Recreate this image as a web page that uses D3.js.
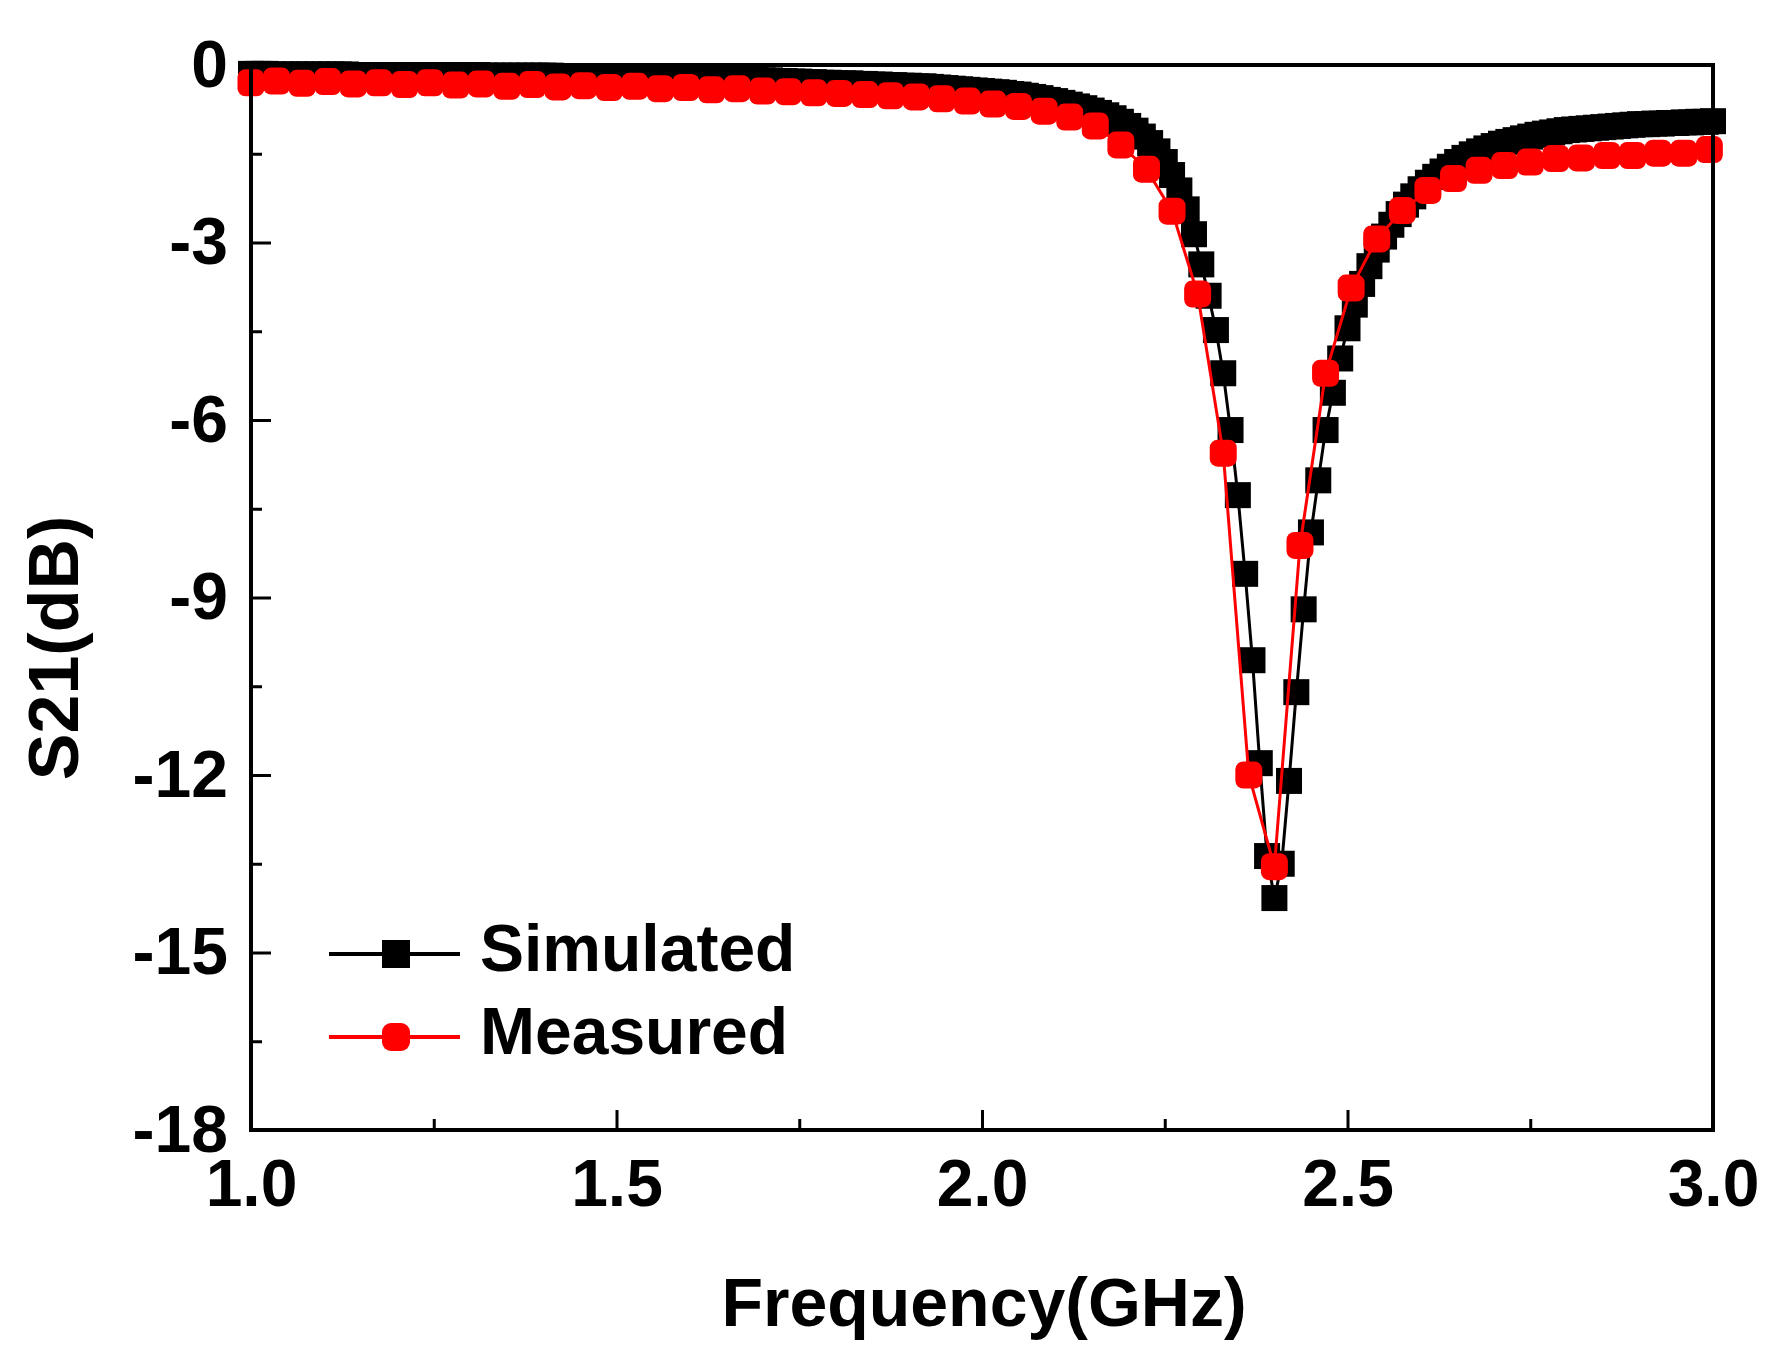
<!DOCTYPE html>
<html lang="en">
<head>
<meta charset="utf-8">
<title>S21 Simulated vs Measured</title>
<script type="text/javascript" src="https://cdn.jsdelivr.net/npm/d3@7/dist/d3.min.js"></script>
<style>
  body { margin: 0; background: #fff; }
  text { font-family: "Liberation Sans", Arial, sans-serif; font-weight: bold; fill: #000; }
</style>
</head>
<body>
<div id="chart"></div>
<script type="text/javascript">
// simulated S21, 1.00 .. 3.00 GHz every 0.01 GHz
const simStart = 1.0;
const simStep = 0.01;
const simulated = [
  -0.15,-0.15,-0.15,-0.16,-0.16,-0.16,-0.16,-0.16,-0.16,-0.16,
  -0.16,-0.16,-0.16,-0.16,-0.17,-0.17,-0.17,-0.17,-0.17,-0.17,
  -0.17,-0.17,-0.17,-0.17,-0.17,-0.17,-0.17,-0.17,-0.17,-0.17,
  -0.17,-0.17,-0.18,-0.18,-0.18,-0.18,-0.18,-0.18,-0.18,-0.18,
  -0.18,-0.18,-0.19,-0.19,-0.19,-0.19,-0.19,-0.19,-0.19,-0.19,
  -0.19,-0.20,-0.20,-0.20,-0.20,-0.20,-0.20,-0.21,-0.21,-0.21,
  -0.21,-0.22,-0.22,-0.22,-0.23,-0.23,-0.24,-0.24,-0.25,-0.25,
  -0.26,-0.26,-0.27,-0.27,-0.28,-0.28,-0.29,-0.29,-0.30,-0.30,
  -0.31,-0.31,-0.31,-0.32,-0.32,-0.33,-0.33,-0.34,-0.34,-0.35,
  -0.35,-0.36,-0.36,-0.37,-0.38,-0.39,-0.40,-0.41,-0.42,-0.43,
  -0.44,-0.45,-0.46,-0.47,-0.49,-0.50,-0.52,-0.54,-0.56,-0.59,
  -0.61,-0.64,-0.67,-0.70,-0.73,-0.77,-0.81,-0.85,-0.90,-0.96,
  -1.03,-1.11,-1.21,-1.32,-1.46,-1.64,-1.86,-2.12,-2.44,-2.86,
  -3.37,-3.90,-4.48,-5.21,-6.17,-7.27,-8.60,-10.06,-11.80,-13.37,
  -14.08,-13.50,-12.10,-10.60,-9.20,-7.90,-7.02,-6.17,-5.54,-4.96,
  -4.45,-4.05,-3.70,-3.40,-3.12,-2.90,-2.70,-2.52,-2.36,-2.22,
  -2.10,-1.99,-1.89,-1.80,-1.72,-1.64,-1.57,-1.51,-1.46,-1.41,
  -1.37,-1.33,-1.30,-1.27,-1.24,-1.21,-1.18,-1.16,-1.14,-1.12,
  -1.10,-1.09,-1.08,-1.07,-1.06,-1.05,-1.04,-1.03,-1.02,-1.01,
  -1.00,-1.00,-0.99,-0.99,-0.98,-0.98,-0.97,-0.97,-0.96,-0.96,
  -0.95
];

// measured S21, VNA sweep every 0.035 GHz from 1.0 GHz
const measStart = 1.0;
const measStep = 0.035;
const measured = [
  -0.30,-0.27,-0.31,-0.28,-0.32,-0.30,-0.33,-0.30,-0.34,-0.32,
  -0.36,-0.33,-0.37,-0.35,-0.38,-0.36,-0.40,-0.38,-0.42,-0.40,
  -0.44,-0.45,-0.47,-0.48,-0.50,-0.52,-0.54,-0.57,-0.61,-0.66,
  -0.70,-0.78,-0.88,-1.03,-1.35,-1.76,-2.47,-3.87,-6.56,-12.00,
  -13.55,-8.12,-5.21,-3.77,-2.94,-2.46,-2.12,-1.92,-1.78,-1.70,
  -1.64,-1.58,-1.57,-1.53,-1.53,-1.49,-1.49,-1.43
];

const xTicks = [1.0, 1.5, 2.0, 2.5, 3.0];
const xMinorTicks = [1.25, 1.75, 2.25, 2.75];
const yTicks = [0, -3, -6, -9, -12, -15, -18];
const yMinorTicks = [-1.5, -4.5, -7.5, -10.5, -13.5, -16.5];
const seriesNames = ["Simulated", "Measured"];

const w = 1784;
const h = 1364;
const plotLeft = 251, plotRight = 1713, plotTop = 65, plotBottom = 1130;

let simData = simulated.map((v, i) => ({ f: simStart + i * simStep, v: v }));
let measData = measured.map((v, i) => ({ f: measStart + i * measStep, v: v }));

let xScale = d3.scaleLinear().domain([1, 3]).range([plotLeft, plotRight]);
let yScale = d3.scaleLinear().domain([-18, 0]).range([plotBottom, plotTop]);

let svg = d3.select("#chart")
  .append("svg")
  .attr("width", w)
  .attr("height", h);

svg.append("rect").attr("width", w).attr("height", h).attr("fill", "#fff");

const line = d3.line()
  .x((d) => xScale(d.f))
  .y((d) => yScale(d.v));

// simulated: black line + squares
svg.append("path")
  .datum(simData)
  .attr("d", line)
  .attr("fill", "none")
  .attr("stroke", "#000")
  .attr("stroke-width", 3);

const sq = 26;
svg.append("g")
  .selectAll("rect")
  .data(simData)
  .enter()
  .append("rect")
    .attr("x", (d) => xScale(d.f) - sq / 2)
    .attr("y", (d) => yScale(d.v) - sq / 2)
    .attr("width", sq)
    .attr("height", sq)
    .attr("fill", "#000");

// measured: red line + dots (blocky round dots like the original export)
svg.append("path")
  .datum(measData)
  .attr("d", line)
  .attr("fill", "none")
  .attr("stroke", "#ff0000")
  .attr("stroke-width", 3);

const dot = 27;
svg.append("g")
  .selectAll("rect")
  .data(measData)
  .enter()
  .append("rect")
    .attr("x", (d) => xScale(d.f) - dot / 2)
    .attr("y", (d) => yScale(d.v) - dot / 2)
    .attr("width", dot)
    .attr("height", dot)
    .attr("rx", 8)
    .attr("fill", "#ff0000");

// axes (ticks pointing inward)
let xAxis = d3.axisBottom(xScale)
  .tickValues(xTicks)
  .tickSizeInner(-20)
  .tickSizeOuter(0)
  .tickPadding(29)
  .tickFormat(d3.format(".1f"));

let yAxis = d3.axisLeft(yScale)
  .tickValues(yTicks)
  .tickSizeInner(-20)
  .tickSizeOuter(0)
  .tickPadding(23)
  .tickFormat((d) => String(d));

let gx = svg.append("g")
  .attr("class", "x axis")
  .attr("transform", `translate(0, ${plotBottom})`)
  .call(xAxis);

let gy = svg.append("g")
  .attr("class", "y axis")
  .attr("transform", `translate(${plotLeft}, 0)`)
  .call(yAxis);

svg.append("g")
  .attr("transform", `translate(0, ${plotBottom})`)
  .call(d3.axisBottom(xScale).tickValues(xMinorTicks).tickSizeInner(-11).tickSizeOuter(0).tickFormat(""));

svg.append("g")
  .attr("transform", `translate(${plotLeft}, 0)`)
  .call(d3.axisLeft(yScale).tickValues(yMinorTicks).tickSizeInner(-11).tickSizeOuter(0).tickFormat(""));

svg.selectAll(".domain").remove();
svg.selectAll(".tick line").attr("stroke", "#000").attr("stroke-width", 3);
gx.selectAll("text").attr("font-size", 66).attr("font-family", null).attr("fill", "#000");
gy.selectAll("text").attr("font-size", 66).attr("font-family", null).attr("fill", "#000");

// frame
svg.append("rect")
  .attr("x", plotLeft)
  .attr("y", plotTop)
  .attr("width", plotRight - plotLeft)
  .attr("height", plotBottom - plotTop)
  .attr("fill", "none")
  .attr("stroke", "#000")
  .attr("stroke-width", 4);

svg.append("text")
  .attr("x", 984)
  .attr("y", 1326)
  .attr("text-anchor", "middle")
  .attr("font-size", 68)
  .text("Frequency(GHz)");

svg.append("text")
  .attr("transform", "translate(53, 648) rotate(-90)")
  .attr("text-anchor", "middle")
  .attr("dy", "0.36em")
  .attr("font-size", 70)
  .text("S21(dB)");

// legend
const legendRows = [
  { name: seriesNames[0], color: "#000", y: 954, rx: 0 },
  { name: seriesNames[1], color: "#ff0000", y: 1037, rx: 9 }
];

let legend = svg.append("g").attr("class", "legend");

legendRows.forEach((r) => {
  legend.append("line")
    .attr("x1", 329).attr("x2", 460)
    .attr("y1", r.y).attr("y2", r.y)
    .attr("stroke", r.color)
    .attr("stroke-width", 4);
  legend.append("rect")
    .attr("x", 396 - 14).attr("y", r.y - 14)
    .attr("width", 28).attr("height", 28)
    .attr("rx", r.rx)
    .attr("fill", r.color);
  legend.append("text")
    .attr("x", 480)
    .attr("y", r.y + 17)
    .attr("font-size", 66)
    .text(r.name);
});
</script>
</body>
</html>
